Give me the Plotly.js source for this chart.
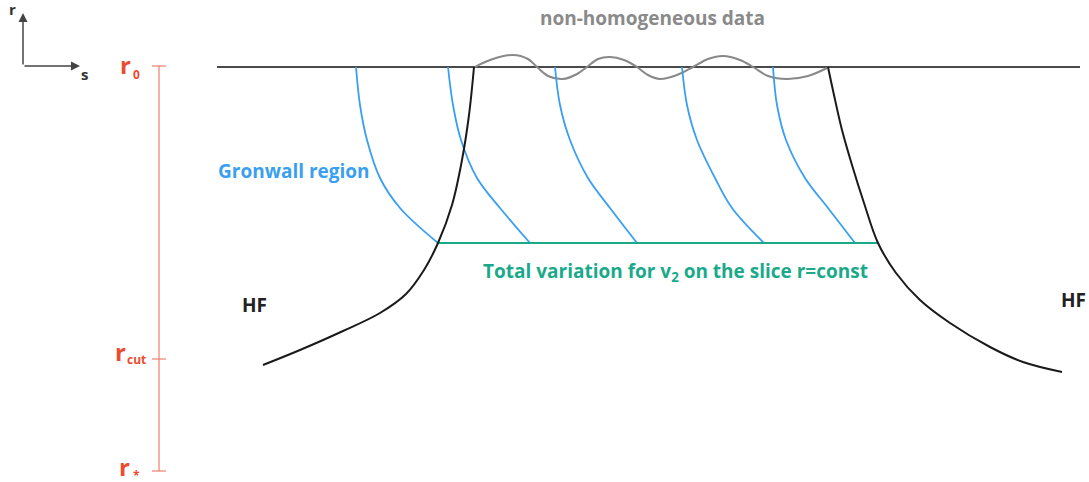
<!DOCTYPE html>
<html>
<head>
<meta charset="utf-8">
<script src="https://cdn.plot.ly/plotly-3.0.1.min.js"></script>
<style>
  html, body { margin: 0; padding: 0; background: #ffffff; }
  #chart { width: 1089px; height: 482px; }
</style>
</head>
<body>
<div id="chart"></div>
<script>
// Diagram coordinates: s runs left to right, r is drawn with r0 at the top.

// Initial data slice r = r0
const dataSliceS = [217, 1080];
const dataSliceR = [67, 67];

// Non-homogeneous initial data oscillating about the slice
const waveS = [475, 490, 513, 528, 537, 548, 563, 577, 587, 598, 610, 624, 637, 648, 660, 677, 693, 708, 723, 740, 753, 768, 787, 808, 827];
const waveR = [67, 60, 55, 59, 67, 76, 79, 74, 67, 59, 57, 60, 67, 75, 79, 75, 67, 59, 56, 60, 67, 76, 79, 76, 68];

// HF boundary curves
const hfLeftS = [474, 469, 462, 452, 438, 424, 406, 380, 343, 300, 263];
const hfLeftR = [67, 115, 160, 205, 243, 270, 294, 313, 331, 350, 365];
const hfRightS = [828, 834, 842, 852, 864, 878, 896, 920, 950, 990, 1023, 1062];
const hfRightR = [67, 95, 130, 165, 203, 243, 273, 300, 323, 347, 362, 372];

// Gronwall characteristics, from the data slice down to r = const
const gronwallR = [67, 105, 140, 178, 208, 243];
const gronwall1S = [356, 360, 367, 380, 400, 438];
const gronwall2S = [448, 453, 461, 477, 500, 530];
const gronwall3S = [555, 560, 570, 588, 610, 637];
const gronwall4S = [682, 687, 697, 715, 732, 764];
const gronwall5S = [773, 777, 786, 805, 828, 855];

// Slice r = const on which the total variation is measured
const sliceS = [438, 878];
const sliceR = [243, 243];

// Scale of r values and their labels
const scaleS = 159;
const scaleLevels = [66, 359, 471];
const scaleSubscripts = ['0', 'cut', '*'];

const FONT = 'Open Sans, Noto Sans, sans-serif';
const C_BLUE = '#3a9ff0';
const C_GREEN = '#1aaa8a';
const C_RED = '#ec4b2f';

const traces = [];
function line(xs, ys, color, width, shape) {
  traces.push({
    type: 'scatter', mode: 'lines', x: xs, y: ys,
    line: { color: color, width: width, shape: shape || 'linear', smoothing: 1 },
    hoverinfo: 'skip', showlegend: false
  });
}

line(dataSliceS, dataSliceR, '#4a4a4a', 2);
line(waveS, waveR, '#888888', 2, 'spline');
[gronwall1S, gronwall2S, gronwall3S, gronwall4S, gronwall5S].forEach(function (s) {
  line(s, gronwallR, C_BLUE, 1.8, 'spline');
});
line(sliceS, sliceR, C_GREEN, 2.2);
line(hfLeftS, hfLeftR, '#1a1a1a', 2, 'spline');
line(hfRightS, hfRightR, '#1a1a1a', 2, 'spline');

// r scale: vertical bar with end and tick marks
line([scaleS, scaleS], [scaleLevels[0], scaleLevels[scaleLevels.length - 1]], '#f27d6b', 1.2);
scaleLevels.forEach(function (r) {
  line([scaleS - 7, scaleS + 7], [r, r], '#f27d6b', 1.2);
});

const annotations = [];
function label(text, x, y, size, color, xanchor) {
  annotations.push({
    text: '<b>' + text + '</b>', x: x, y: y, xref: 'x', yref: 'y',
    showarrow: false, xanchor: xanchor || 'center', yanchor: 'middle',
    font: { family: FONT, size: size, color: color }
  });
}

// "r" with a small subscript next to each level of the scale
const scaleLetterX = [125, 120, 124];
const scaleLetterY = [64, 351, 466];
const scaleSubX = [131, 125, 131];
const scaleSubY = [74, 359, 475];
scaleLevels.forEach(function (r, i) {
  label('r', scaleLetterX[i], scaleLetterY[i], 24, C_RED);
  label(scaleSubscripts[i], scaleSubX[i], scaleSubY[i], 12, C_RED, 'left');
});

label('non-homogeneous data', 652, 18, 19, '#8a8a8a');
label('Gronwall region', 216, 171, 19, C_BLUE, 'left');
label('Total variation for v<sub>2</sub> on the slice r=const', 675, 272, 19, C_GREEN);
label('HF', 254, 305, 19, '#222222');
label('HF', 1073, 300, 19, '#222222');

// Orientation of the (s, r) axes
annotations.push({
  x: 23, y: 13, ax: 23, ay: 66, xref: 'x', yref: 'y', axref: 'x', ayref: 'y',
  text: '', showarrow: true, arrowhead: 2, arrowsize: 1.2, arrowwidth: 1.5, arrowcolor: '#444'
});
annotations.push({
  x: 80, y: 66, ax: 23, ay: 66, xref: 'x', yref: 'y', axref: 'x', ayref: 'y',
  text: '', showarrow: true, arrowhead: 2, arrowsize: 1.2, arrowwidth: 1.5, arrowcolor: '#444'
});
label('r', 12, 9, 15, '#333333');
label('s', 84, 74, 15, '#333333');

const layout = {
  width: 1089, height: 482,
  margin: { l: 0, r: 0, t: 0, b: 0 },
  paper_bgcolor: '#ffffff', plot_bgcolor: '#ffffff',
  xaxis: { range: [0, 1089], visible: false, fixedrange: true },
  yaxis: { range: [482, 0], visible: false, fixedrange: true },
  annotations: annotations,
  showlegend: false
};

Plotly.newPlot('chart', traces, layout, { staticPlot: true, displayModeBar: false });
</script>
</body>
</html>
